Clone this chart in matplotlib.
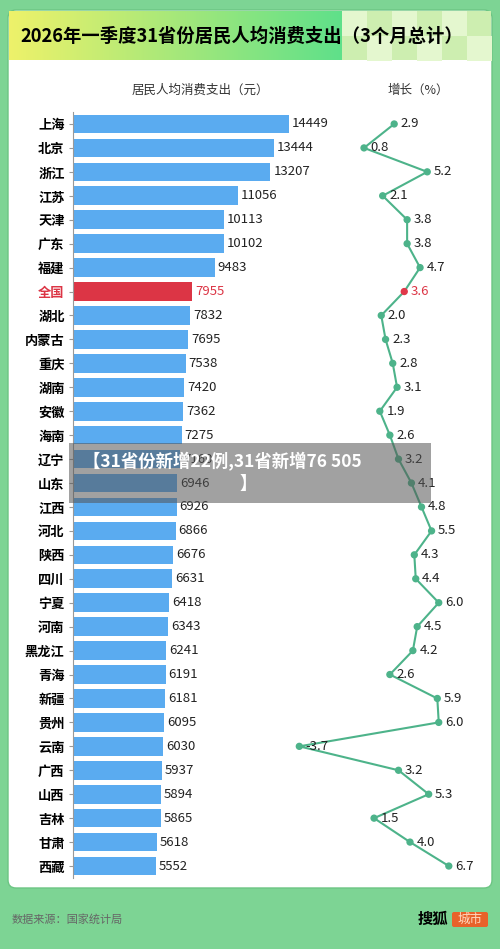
import matplotlib
matplotlib.use("Agg")
import matplotlib.pyplot as plt
from matplotlib.patches import FancyBboxPatch, Rectangle
from matplotlib.colors import LinearSegmentedColormap
import numpy as np

plt.rcParams['font.family'] = ['Noto Sans CJK SC', 'DejaVu Sans']

regions = ["上海","北京","浙江","江苏","天津","广东","福建","全国","湖北","内蒙古","重庆","湖南","安徽","海南","辽宁","山东","江西","河北","陕西","四川","宁夏","河南","黑龙江","青海","新疆","贵州","云南","广西","山西","吉林","甘肃","西藏"]
spending = [14449,13444,13207,11056,10113,10102,9483,7955,7832,7695,7538,7420,7362,7275,7160,6946,6926,6866,6676,6631,6418,6343,6241,6191,6181,6095,6030,5937,5894,5865,5618,5552]
growth = [2.9,0.8,5.2,2.1,3.8,3.8,4.7,3.6,2.0,2.3,2.8,3.1,1.9,2.6,3.2,4.1,4.8,5.5,4.3,4.4,6.0,4.5,4.2,2.6,5.9,6.0,-3.7,3.2,5.3,1.5,4.0,6.7]

W, H = 500, 949
fig = plt.figure(figsize=(W/100, H/100), dpi=100)
fig.patch.set_facecolor('#7dd494')

def fx(x): return x / W
def fy(y): return 1 - y / H

bg = fig.add_axes([0, 0, 1, 1]); bg.set_xlim(0, W); bg.set_ylim(H, 0); bg.axis('off')
bg.add_patch(FancyBboxPatch((8, 10), 484, 878, boxstyle="round,pad=0,rounding_size=8", fc='white', ec='#6cc583', lw=1))
grad = np.linspace(0, 1, 256).reshape(1, -1)
cmap = LinearSegmentedColormap.from_list('g', ['#eef26a', '#a6e87a', '#5fe08a'])
bg.imshow(grad, cmap=cmap, extent=(9, 342, 60, 11), aspect='auto', zorder=2)
bg.add_patch(Rectangle((342, 11), 149, 49, fc='#cdeeb0', zorder=2))
for i in range(6):
    for j in range(2):
        if (i + j) % 2 == 0:
            bg.add_patch(Rectangle((342 + i * 25, 11 + j * 25), 25, 25, fc='#e4f7cf', zorder=3))
bg.text(20, 36, "2026年一季度31省份居民人均消费支出（3个月总计）", fontsize=13.2, fontweight='bold', va='center', zorder=4)
bg.text(200, 90, "居民人均消费支出（元）", fontsize=9, ha='center', va='center', color='#333')
bg.text(418, 90, "增长（%）", fontsize=9, ha='center', va='center', color='#333')
bg.text(12, 919, "数据来源：国家统计局", fontsize=8, color='#666', va='center')
bg.text(418, 919, "搜狐", fontsize=11, fontweight='bold', va='center')
bg.add_patch(FancyBboxPatch((452, 912), 36, 15, boxstyle="round,pad=0,rounding_size=2", fc='#e8622a', ec='none'))
bg.text(470, 919.5, "城市", fontsize=9, color='#ffd9c0', ha='center', va='center')

n = len(regions)
top, bot = 112, 878
ypos = np.arange(n)
cols = ['#dc3545' if r == '全国' else '#5aabf0' for r in regions]

ax = fig.add_axes([fx(73), fy(bot), 299/W, (bot-top)/H])
ax.barh(ypos, spending, height=0.78, color=cols)
ax.set_ylim(n - 0.5, -0.5); ax.set_xlim(0, 20000)
for s in ['top', 'right', 'bottom']: ax.spines[s].set_visible(False)
ax.spines['left'].set_color('#999')
ax.set_xticks([]); ax.set_yticks(ypos)
ax.set_yticklabels(regions, fontsize=9.5, fontweight='bold')
for lab, r in zip(ax.get_yticklabels(), regions):
    if r == '全国': lab.set_color('#dc3545')
ax.tick_params(axis='y', length=3, color='#999', pad=3)
for i, v in enumerate(spending):
    ax.text(v + 200, i, str(v), va='center', fontsize=9.5, color='#dc3545' if regions[i]=='全国' else '#222')
ax.patch.set_alpha(0)

ax2 = fig.add_axes([fx(352.5), fy(bot), 115/W, (bot-top)/H])
ax2.set_xlim(0, 8); ax2.set_ylim(n - 0.5, -0.5)
ax2.plot(growth, ypos, color='#4db38a', lw=1.5, zorder=2, clip_on=False)
pc = ['#e0384a' if r == '全国' else '#4db38a' for r in regions]
ax2.scatter(growth, ypos, s=18, c=pc, zorder=3, clip_on=False)
for i, g in enumerate(growth):
    ax2.text(g + 0.45, i, f"{g:.1f}", va='center', fontsize=9.5, color='#dc3545' if regions[i]=='全国' else '#222')
ax2.axis('off')

bg2 = fig.add_axes([0, 0, 1, 1]); bg2.set_xlim(0, W); bg2.set_ylim(H, 0); bg2.axis('off')
bg2.add_patch(Rectangle((69, 443), 362, 60, fc='#555555', alpha=0.55))
bg2.text(83, 462, "【31省份新增22例,31省新增76 505", fontsize=12.5, fontweight='bold', color='white', va='center')
bg2.text(240, 484, "】", fontsize=12.5, fontweight='bold', color='white', va='center')

fig.savefig('out.png', dpi=100)
